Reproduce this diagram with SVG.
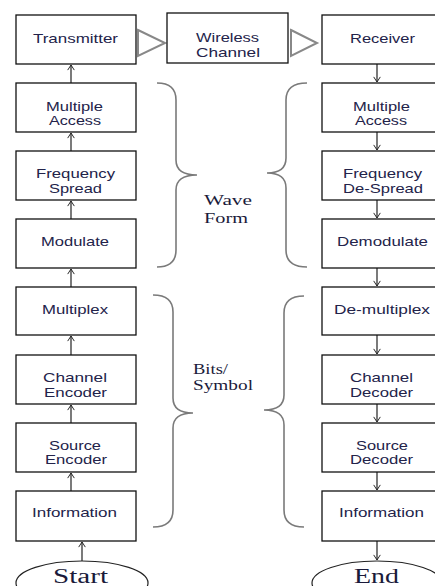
<svg xmlns="http://www.w3.org/2000/svg" width="435" height="586" viewBox="0 0 435 586">
<defs>
<style>
.box{fill:#fff;stroke:#111;stroke-width:1.3}
.t{font-family:"Liberation Sans",Arial,sans-serif;font-size:13px;fill:#23234a}
.s{font-family:"Liberation Serif","Times New Roman",serif;font-size:15px;fill:#1a1a3a}
.big{font-family:"Liberation Serif","Times New Roman",serif;font-size:20px;fill:#1a1a3a}
.c{stroke:#222;stroke-width:1.2;fill:none}
.br{stroke:#7a7a7a;stroke-width:1.6;fill:none}
.tri{fill:#fff;stroke:#888;stroke-width:2}
.ell{fill:#fff;stroke:#222;stroke-width:1.2}
</style>
<marker id="ah" viewBox="0 0 10 12" refX="9.5" refY="6" markerWidth="6" markerHeight="11" markerUnits="userSpaceOnUse" orient="auto">
<path d="M1,0.5 L9.5,6 L1,11.5" fill="none" stroke="#222" stroke-width="1.6"/>
</marker>
</defs>
<rect width="435" height="586" fill="#fff"/>

<g id="connectors">
<line class="c" x1="71" y1="83" x2="71" y2="65" marker-end="url(#ah)"/>
<line class="c" x1="71" y1="151" x2="71" y2="133" marker-end="url(#ah)"/>
<line class="c" x1="71" y1="219" x2="71" y2="201" marker-end="url(#ah)"/>
<line class="c" x1="71" y1="287" x2="71" y2="269" marker-end="url(#ah)"/>
<line class="c" x1="71" y1="355" x2="71" y2="336" marker-end="url(#ah)"/>
<line class="c" x1="71" y1="423" x2="71" y2="405" marker-end="url(#ah)"/>
<line class="c" x1="71" y1="491" x2="71" y2="473" marker-end="url(#ah)"/>
<line class="c" x1="82" y1="561" x2="82" y2="542" marker-end="url(#ah)"/>
<line class="c" x1="377" y1="64" x2="377" y2="82" marker-end="url(#ah)"/>
<line class="c" x1="377" y1="132" x2="377" y2="150" marker-end="url(#ah)"/>
<line class="c" x1="377" y1="200" x2="377" y2="218" marker-end="url(#ah)"/>
<line class="c" x1="377" y1="268" x2="377" y2="286" marker-end="url(#ah)"/>
<line class="c" x1="377" y1="335" x2="377" y2="354" marker-end="url(#ah)"/>
<line class="c" x1="377" y1="404" x2="377" y2="422" marker-end="url(#ah)"/>
<line class="c" x1="377" y1="472" x2="377" y2="490" marker-end="url(#ah)"/>
<line class="c" x1="377" y1="541" x2="377" y2="560" marker-end="url(#ah)"/>
<polygon class="tri" points="138,30 165,43 138,56"/>
<polygon class="tri" points="291,30 317,43 291,56"/>
</g>

<g id="braces">
<path class="br" d="M157,83 Q176,83 176,100 L176,160 Q176,175 197,175 Q176,175 176,190 L176,250 Q176,267 157,267"/>
<path class="br" d="M307,83 Q286,83 286,100 L286,158 Q286,173 267,173 Q286,173 286,188 L286,250 Q286,267 307,267"/>
<path class="br" d="M153,295 Q173,295 173,312 L173,398 Q173,413 193,413 Q173,413 173,428 L173,510 Q173,527 153,527"/>
<path class="br" d="M304,296 Q284,296 284,313 L284,395 Q284,410 264,410 Q284,410 284,425 L284,510 Q284,527 304,527"/>
<text class="s" x="204" y="205" textLength="48" lengthAdjust="spacingAndGlyphs">Wave</text>
<text class="s" x="204" y="223" textLength="44" lengthAdjust="spacingAndGlyphs">Form</text>
<text class="s" x="193" y="374" textLength="35" lengthAdjust="spacingAndGlyphs">Bits/</text>
<text class="s" x="193" y="390" textLength="60" lengthAdjust="spacingAndGlyphs">Symbol</text>
</g>

<g id="transmitter"><rect class="box" x="16" y="15" width="120" height="49"/><text class="t" x="33" y="43" textLength="85" lengthAdjust="spacingAndGlyphs">Transmitter</text></g>
<g id="multiple-access-tx"><rect class="box" x="16" y="83" width="120" height="49"/><text class="t" x="46" y="110.5" textLength="57" lengthAdjust="spacingAndGlyphs">Multiple</text><text class="t" x="49" y="125" textLength="52" lengthAdjust="spacingAndGlyphs">Access</text></g>
<g id="frequency-spread"><rect class="box" x="16" y="151" width="120" height="49"/><text class="t" x="36" y="178" textLength="79" lengthAdjust="spacingAndGlyphs">Frequency</text><text class="t" x="49" y="193" textLength="53" lengthAdjust="spacingAndGlyphs">Spread</text></g>
<g id="modulate"><rect class="box" x="16" y="219" width="120" height="49"/><text class="t" x="41" y="246" textLength="68" lengthAdjust="spacingAndGlyphs">Modulate</text></g>
<g id="multiplex"><rect class="box" x="16" y="287" width="120" height="48"/><text class="t" x="42" y="314" textLength="66" lengthAdjust="spacingAndGlyphs">Multiplex</text></g>
<g id="channel-encoder"><rect class="box" x="16" y="355" width="120" height="49"/><text class="t" x="43" y="382" textLength="64" lengthAdjust="spacingAndGlyphs">Channel</text><text class="t" x="44" y="397" textLength="63" lengthAdjust="spacingAndGlyphs">Encoder</text></g>
<g id="source-encoder"><rect class="box" x="16" y="423" width="120" height="49"/><text class="t" x="49" y="450" textLength="52" lengthAdjust="spacingAndGlyphs">Source</text><text class="t" x="45" y="464" textLength="62" lengthAdjust="spacingAndGlyphs">Encoder</text></g>
<g id="information-tx"><rect class="box" x="16" y="491" width="120" height="50"/><text class="t" x="32" y="517" textLength="85" lengthAdjust="spacingAndGlyphs">Information</text></g>
<g id="start"><ellipse class="ell" cx="82" cy="583" rx="66" ry="22"/><text class="big" x="53" y="583" textLength="55" lengthAdjust="spacingAndGlyphs">Start</text></g>

<g id="wireless-channel"><rect class="box" x="167" y="13" width="121" height="50"/><text class="t" x="196" y="42" textLength="63" lengthAdjust="spacingAndGlyphs">Wireless</text><text class="t" x="196" y="57" textLength="64" lengthAdjust="spacingAndGlyphs">Channel</text></g>

<g id="receiver"><rect class="box" x="322" y="15" width="122" height="49"/><text class="t" x="350" y="43" textLength="65" lengthAdjust="spacingAndGlyphs">Receiver</text></g>
<g id="multiple-access-rx"><rect class="box" x="322" y="83" width="122" height="49"/><text class="t" x="353" y="110.5" textLength="57" lengthAdjust="spacingAndGlyphs">Multiple</text><text class="t" x="355" y="125" textLength="52" lengthAdjust="spacingAndGlyphs">Access</text></g>
<g id="frequency-despread"><rect class="box" x="322" y="151" width="122" height="49"/><text class="t" x="343" y="178" textLength="79" lengthAdjust="spacingAndGlyphs">Frequency</text><text class="t" x="343" y="193" textLength="80" lengthAdjust="spacingAndGlyphs">De-Spread</text></g>
<g id="demodulate"><rect class="box" x="322" y="219" width="122" height="49"/><text class="t" x="337" y="246" textLength="91" lengthAdjust="spacingAndGlyphs">Demodulate</text></g>
<g id="demultiplex"><rect class="box" x="322" y="287" width="122" height="48"/><text class="t" x="334" y="314" textLength="96" lengthAdjust="spacingAndGlyphs">De-multiplex</text></g>
<g id="channel-decoder"><rect class="box" x="322" y="355" width="122" height="49"/><text class="t" x="350" y="382" textLength="63" lengthAdjust="spacingAndGlyphs">Channel</text><text class="t" x="350" y="397" textLength="63" lengthAdjust="spacingAndGlyphs">Decoder</text></g>
<g id="source-decoder"><rect class="box" x="322" y="423" width="122" height="49"/><text class="t" x="356" y="450" textLength="52" lengthAdjust="spacingAndGlyphs">Source</text><text class="t" x="350" y="464" textLength="63" lengthAdjust="spacingAndGlyphs">Decoder</text></g>
<g id="information-rx"><rect class="box" x="322" y="491" width="122" height="50"/><text class="t" x="339" y="517" textLength="85" lengthAdjust="spacingAndGlyphs">Information</text></g>
<g id="end"><ellipse class="ell" cx="377" cy="583" rx="65" ry="22"/><text class="big" x="354" y="583" textLength="45" lengthAdjust="spacingAndGlyphs">End</text></g>
</svg>
